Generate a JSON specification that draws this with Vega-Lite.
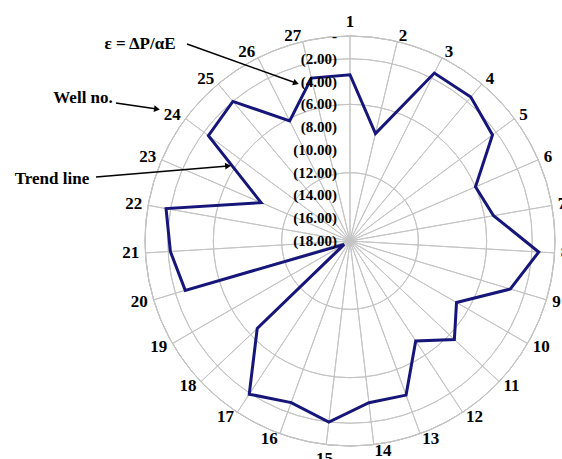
{
  "$schema": "https://vega.github.io/schema/vega-lite/v6.json",
  "width": 410,
  "height": 410,
  "autosize": {"type": "none"},
  "padding": {"left": 145, "top": 36, "right": 7, "bottom": 13},
  "background": "white",
  "config": {"view": {"stroke": null}, "text": {"font": "Liberation Serif", "fontWeight": "bold"}},
  "datasets": {
    "wells": [
      {"well": 1, "v": -3.4}, {"well": 2, "v": -8.3}, {"well": 3, "v": -1.5},
      {"well": 4, "v": -1.5}, {"well": 5, "v": -2.4}, {"well": 6, "v": -6.0},
      {"well": 7, "v": -5.2}, {"well": 8, "v": -1.4}, {"well": 9, "v": -3.3},
      {"well": 10, "v": -7.2}, {"well": 11, "v": -5.4}, {"well": 12, "v": -7.5},
      {"well": 13, "v": -3.6}, {"well": 14, "v": -3.7}, {"well": 15, "v": -2.0},
      {"well": 16, "v": -2.9}, {"well": 17, "v": -1.9}, {"well": 18, "v": -6.8},
      {"well": 19, "v": -17.4}, {"well": 20, "v": -2.9}, {"well": 21, "v": -2.2},
      {"well": 22, "v": -1.6}, {"well": 23, "v": -9.5}, {"well": 24, "v": -2.5},
      {"well": 25, "v": -2.0}, {"well": 26, "v": -6.2}, {"well": 27, "v": -3.3}
    ],
    "rings": [
      {"ring": 0, "lab": "-\u00a0\u00a0\u00a0\u00a0\u00a0"},
      {"ring": -2, "lab": "(2.00)"}, {"ring": -4, "lab": "(4.00)"},
      {"ring": -6, "lab": "(6.00)"}, {"ring": -8, "lab": "(8.00)"},
      {"ring": -10, "lab": "(10.00)"}, {"ring": -12, "lab": "(12.00)"},
      {"ring": -14, "lab": "(14.00)"}, {"ring": -16, "lab": "(16.00)"},
      {"ring": -18, "lab": "(18.00)"}
    ],
    "notes": [
      {"t": "ε = ΔP/αE", "x": -18.44, "y": 17.3},
      {"t": "Well no.", "x": -23.44, "y": 12.56},
      {"t": "Trend line", "x": -26.17, "y": 5.44}
    ],
    "arrows": [
      {"x": -14.31, "y": 17.3, "x2": -4.74, "y2": 13.87, "ang": 110},
      {"x": -20.55, "y": 12.12, "x2": -16.95, "y2": 11.59, "ang": 98},
      {"x": -22.3, "y": 5.62, "x2": -10.71, "y2": 6.59, "ang": 85}
    ]
  },
  "layer": [
    {
      "data": {"name": "wells"},
      "mark": {"type": "arc", "radius": 205, "fillOpacity": 0, "stroke": "#c4c4c4", "strokeWidth": 1},
      "encoding": {
        "theta": {"aggregate": "count", "type": "quantitative", "stack": true, "scale": {"domain": [1, 28]}},
        "detail": {"field": "well", "type": "quantitative"},
        "order": {"field": "well", "type": "quantitative"},
        "x": {"datum": 0, "type": "quantitative", "scale": {"domain": [-18, 18], "nice": false, "zero": false}, "axis": null},
        "y": {"datum": 0, "type": "quantitative", "scale": {"domain": [-18, 18], "nice": false, "zero": false}, "axis": null}
      }
    },
    {
      "data": {"name": "rings"},
      "mark": {"type": "arc", "theta": 0, "theta2": 6.2832, "fillOpacity": 0, "stroke": "#c4c4c4", "strokeWidth": 1},
      "encoding": {
        "radius": {"field": "ring", "type": "quantitative", "scale": {"type": "linear", "domain": [-18, 0], "range": [0, 205], "zero": false, "nice": false}},
        "x": {"datum": 0, "type": "quantitative"},
        "y": {"datum": 0, "type": "quantitative"}
      }
    },
    {
      "data": {"name": "wells"},
      "transform": [
        {"calculate": "(datum.v + 18) * sin(2 * PI * (datum.well - 1) / 27)", "as": "px"},
        {"calculate": "(datum.v + 18) * cos(2 * PI * (datum.well - 1) / 27)", "as": "py"}
      ],
      "mark": {"type": "line", "interpolate": "linear-closed", "color": "#16167a", "strokeWidth": 3},
      "encoding": {
        "x": {"field": "px", "type": "quantitative"},
        "y": {"field": "py", "type": "quantitative"},
        "order": {"field": "well", "type": "quantitative"}
      }
    },
    {
      "data": {"name": "rings"},
      "mark": {"type": "text", "theta": 0, "align": "right", "baseline": "middle", "dx": -13, "fontSize": 15, "color": "black"},
      "encoding": {
        "radius": {"field": "ring", "type": "quantitative"},
        "text": {"field": "lab"},
        "x": {"datum": 0, "type": "quantitative"},
        "y": {"datum": 0, "type": "quantitative"}
      }
    },
    {
      "data": {"name": "wells"},
      "transform": [{"filter": "datum.well >= 2 && datum.well <= 14"}],
      "mark": {"type": "text", "radius": 211, "align": "left", "baseline": "middle", "fontSize": 17, "color": "black"},
      "encoding": {
        "theta": {"field": "well", "type": "quantitative", "stack": null},
        "text": {"field": "well"},
        "x": {"datum": 0, "type": "quantitative"},
        "y": {"datum": 0, "type": "quantitative"}
      }
    },
    {
      "data": {"name": "wells"},
      "transform": [{"filter": "datum.well >= 16"}],
      "mark": {"type": "text", "radius": 211, "align": "right", "baseline": "middle", "fontSize": 17, "color": "black"},
      "encoding": {
        "theta": {"field": "well", "type": "quantitative", "stack": null},
        "text": {"field": "well"},
        "x": {"datum": 0, "type": "quantitative"},
        "y": {"datum": 0, "type": "quantitative"}
      }
    },
    {
      "data": {"name": "wells"},
      "transform": [{"filter": "datum.well == 1 || datum.well == 15"}],
      "mark": {"type": "text", "radius": 219, "align": "center", "baseline": "middle", "fontSize": 17, "color": "black"},
      "encoding": {
        "theta": {"field": "well", "type": "quantitative", "stack": null},
        "text": {"field": "well"},
        "x": {"datum": 0, "type": "quantitative"},
        "y": {"datum": 0, "type": "quantitative"}
      }
    },
    {
      "data": {"name": "notes"},
      "mark": {"type": "text", "align": "center", "baseline": "middle", "fontSize": 17, "color": "black"},
      "encoding": {
        "x": {"field": "x", "type": "quantitative"},
        "y": {"field": "y", "type": "quantitative"},
        "text": {"field": "t"}
      }
    },
    {
      "data": {"name": "arrows"},
      "mark": {"type": "rule", "color": "black", "strokeWidth": 1.5},
      "encoding": {
        "x": {"field": "x", "type": "quantitative"},
        "y": {"field": "y", "type": "quantitative"},
        "x2": {"field": "x2"},
        "y2": {"field": "y2"}
      }
    },
    {
      "data": {"name": "arrows"},
      "mark": {"type": "point", "shape": "triangle-up", "filled": true, "color": "black", "size": 45, "opacity": 1},
      "encoding": {
        "x": {"field": "x2", "type": "quantitative"},
        "y": {"field": "y2", "type": "quantitative"},
        "angle": {"field": "ang", "type": "quantitative", "scale": {"domain": [0, 360], "range": [0, 360]}}
      }
    }
  ]
}
